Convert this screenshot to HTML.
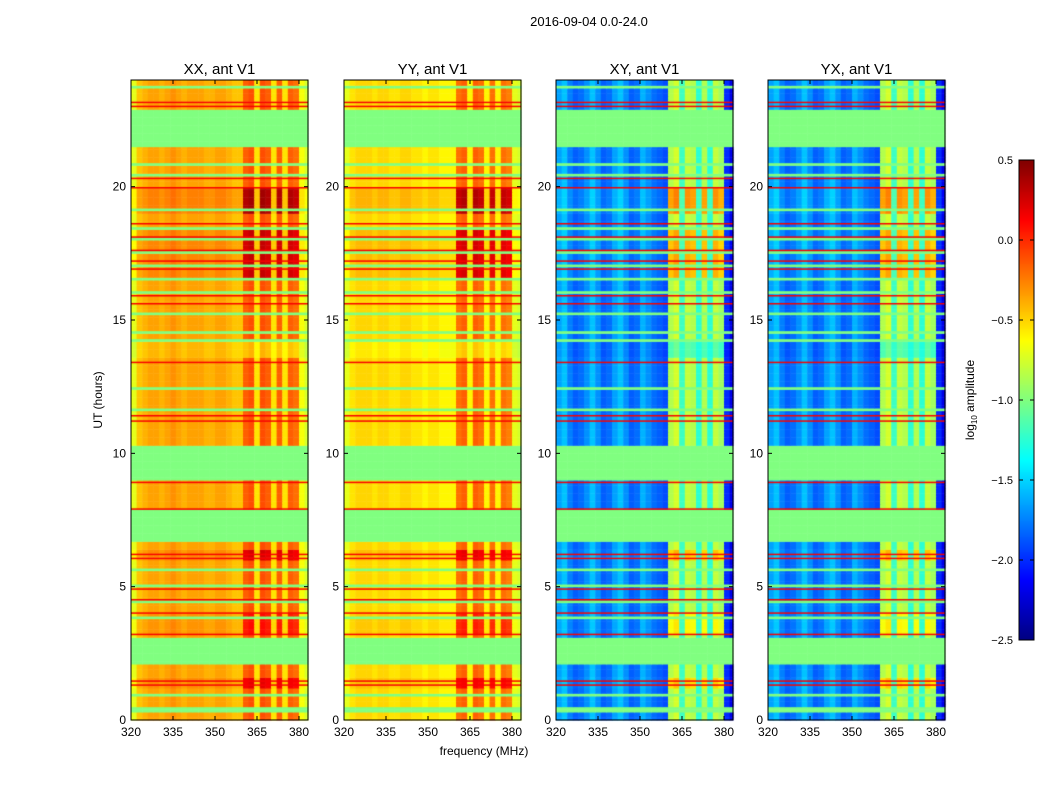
<!DOCTYPE html>
<html><head><meta charset="utf-8"><style>
body{margin:0;background:#fff;width:1050px;height:800px;overflow:hidden;position:relative;font-family:"Liberation Sans",sans-serif}
canvas{position:absolute;left:0;top:0}
svg{position:absolute;left:0;top:0}
</style></head><body>
<canvas id="cv" width="1050" height="800"></canvas>
<svg id="sv" width="1050" height="800"></svg>
<script>
// ---- data ----
const panelTitles = ["XX, ant V1","YY, ant V1","XY, ant V1","YX, ant V1"];
const freqChannels = [320,322,324,326,328,330,332,334,336,338,340,342,344,346,348,350,352,354,356,358,360,362,364,366,368,370,372,374,376,378,380,382];
const baseXX = [-0.7,-0.45,-0.4,-0.35,-0.35,-0.4,-0.35,-0.3,-0.35,-0.4,-0.35,-0.35,-0.35,-0.4,-0.4,-0.35,-0.35,-0.4,-0.45,-0.45,-0.15,-0.1,-0.55,-0.1,-0.15,-0.55,-0.15,-0.55,-0.15,-0.2,-0.65,-0.75];
const baseYY = [-0.7,-0.55,-0.5,-0.5,-0.5,-0.55,-0.5,-0.5,-0.55,-0.55,-0.5,-0.5,-0.55,-0.55,-0.6,-0.55,-0.55,-0.6,-0.6,-0.6,-0.2,-0.15,-0.6,-0.15,-0.2,-0.6,-0.2,-0.6,-0.2,-0.25,-0.7,-0.75];
const baseXY = [-1.65,-1.55,-1.75,-1.85,-1.8,-1.7,-1.55,-1.7,-1.85,-1.8,-1.65,-1.55,-1.7,-1.85,-1.8,-1.6,-1.7,-1.8,-1.85,-1.9,-0.85,-0.75,-1.2,-0.8,-0.85,-1.25,-0.85,-1.25,-0.8,-0.9,-2.0,-2.2];
const baseYX = [-1.65,-1.55,-1.75,-1.85,-1.8,-1.7,-1.55,-1.7,-1.85,-1.8,-1.65,-1.55,-1.7,-1.85,-1.8,-1.6,-1.7,-1.8,-1.85,-1.9,-0.85,-0.75,-1.2,-0.8,-0.85,-1.25,-0.85,-1.25,-0.8,-0.9,-2.0,-2.2];
const rfiMask = [0,0,0,0,0,0,0,0,0,0,0,0,0,0,0,0,0,0,0,0,1,1,0,1,1,0,1,0,1,1,0,0];
const boostStart = [19.0,16.5,5.9,3.2,13.5,1.1];
const boostEnd   = [20.0,18.3,6.3,4.0,14.2,1.6];
const boostVal   = [0.5,0.4,0.35,0.2,-0.3,0.3];
const flagStart = [0.35,0.9,2.1,6.7,8.95,21.5,12.4,14.2,14.5,16.0,16.5,17.0,17.5,18.0,18.4,19.1,20.4,5.0,4.4,3.8,5.6,11.6,15.2,20.8,23.7];
const flagEnd   = [0.55,1.0,3.1,7.9,10.3,22.9,12.5,14.3,14.6,16.1,16.6,17.1,17.6,18.1,18.5,19.2,20.5,5.1,4.5,3.9,5.7,11.7,15.3,20.9,23.8];
const redLines = [1.3,1.45,3.2,4.0,4.5,4.9,6.05,6.2,7.9,8.9,11.2,11.4,13.4,15.6,15.9,16.9,17.2,17.6,18.1,18.6,19.95,20.3,23.0,23.15];
const xTicks = [320,335,350,365,380];
const yTicks = [0,5,10,15,20];
const cbTicks = [0.5,0.0,-0.5,-1.0,-1.5,-2.0,-2.5];
// ---- layout ----
const lefts=[131,344,556,768], topY=80, W=177, H=640;
const fx=(l,f)=>l+(f-320)*2.8;
const ty=t=>topY+H-t*H/24;
const vmin=-2.5,vmax=0.5;
function jet(v){let x=(v-vmin)/(vmax-vmin);x=Math.max(0,Math.min(1,x));
 const c=t=>Math.max(0,Math.min(1,1.5-Math.abs(4*x-t)));
 return `rgb(${Math.round(255*c(3))},${Math.round(255*c(2))},${Math.round(255*c(1))})`;}
const bases=[baseXX,baseYY,baseXY,baseYX];
const cv=document.getElementById('cv').getContext('2d');
const dt=0.1;
for(let p=0;p<4;p++){
 const l=lefts[p];
 for(let t=0;t<24;t+=dt){
  let boost=0;
  for(let k=0;k<boostStart.length;k++) if(t>=boostStart[k]&&t<boostEnd[k]) boost=boostVal[k];
  let flagged=false;
  for(let k=0;k<flagStart.length;k++) if(t+dt/2>=flagStart[k]&&t+dt/2<flagEnd[k]) flagged=true;
  for(let c=0;c<freqChannels.length;c++){
   const f=freqChannels[c];
   let v=flagged?-1.0:bases[p][c]+boost*(p<2?(rfiMask[c]?1:0.2):(rfiMask[c]?1:0.1));
   cv.fillStyle=jet(v);
   const x0=fx(l,f),x1=Math.min(l+W,fx(l,f+2));
   cv.fillRect(x0,ty(t+dt),x1-x0+0.5,ty(t)-ty(t+dt)+0.5);
  }
 }
 for(const r of redLines){cv.fillStyle=jet(0.15);cv.fillRect(l,ty(r)-1,W,1.5);}
}
// colorbar
for(let i=0;i<480;i++){cv.fillStyle=jet(vmax-(i/480)*(vmax-vmin));cv.fillRect(1019,160+i,15,1);}
// ---- svg ----
const sv=document.getElementById('sv');const NS='http://www.w3.org/2000/svg';
function mk(tag,attrs,txt){const e=document.createElementNS(NS,tag);for(const k in attrs)e.setAttribute(k,attrs[k]);if(txt!==undefined)e.textContent=txt;sv.appendChild(e);return e;}
let e=mk('text',{x:589,y:26,'font-size':13,'text-anchor':'middle'},'2016-09-04 0.0-24.0');


for(let p=0;p<4;p++){
 const l=lefts[p];
 e=mk('rect',{x:l,y:topY,width:W,height:H,fill:'none',stroke:'#000','stroke-width':1});
 
 
 e=mk('text',{x:l+W/2,y:74,'font-size':15,'text-anchor':'middle'},panelTitles[p]);
 
 
 for(const f of xTicks){const x=fx(l,f);
  mk('line',{x1:x,x2:x,y1:topY+H,y2:topY+H-4,stroke:'#000'});
  mk('line',{x1:x,x2:x,y1:topY,y2:topY+4,stroke:'#000'});
  e=mk('text',{x:x,y:topY+H+16,'font-size':12,'text-anchor':'middle'},f);
  
  }
 for(const t of yTicks){const y=ty(t);
  mk('line',{x1:l,x2:l+4,y1:y,y2:y,stroke:'#000'});
  mk('line',{x1:l+W,x2:l+W-4,y1:y,y2:y,stroke:'#000'});
  e=mk('text',{x:l-5,y:y+4,'font-size':12,'text-anchor':'end'},t);
  
  }
}
e=mk('text',{x:484,y:755,'font-size':12,'text-anchor':'middle'},'frequency (MHz)');


e=mk('text',{x:0,y:0,'font-size':12,'text-anchor':'middle',transform:'translate(102,400) rotate(-90)'},'UT (hours)');


e=mk('rect',{x:1019,y:160,width:15,height:480,fill:'none',stroke:'#000'});


for(const v of cbTicks){const y=160+(vmax-v)/(vmax-vmin)*480;
 mk('line',{x1:1019,x2:1023,y1:y,y2:y,stroke:'#000'});
 mk('line',{x1:1030,x2:1034,y1:y,y2:y,stroke:'#000'});
 e=mk('text',{x:1013,y:y+4,'font-size':11,'text-anchor':'end'},(v<0?'\u2212':'')+Math.abs(v).toFixed(1));
 
 }
e=mk('text',{x:0,y:0,'font-size':12,'text-anchor':'middle',transform:'translate(974,400) rotate(-90)'});
e.innerHTML='log<tspan font-size="8" dy="3">10</tspan><tspan dy="-3"> amplitude</tspan>';


</script>
</body></html>
